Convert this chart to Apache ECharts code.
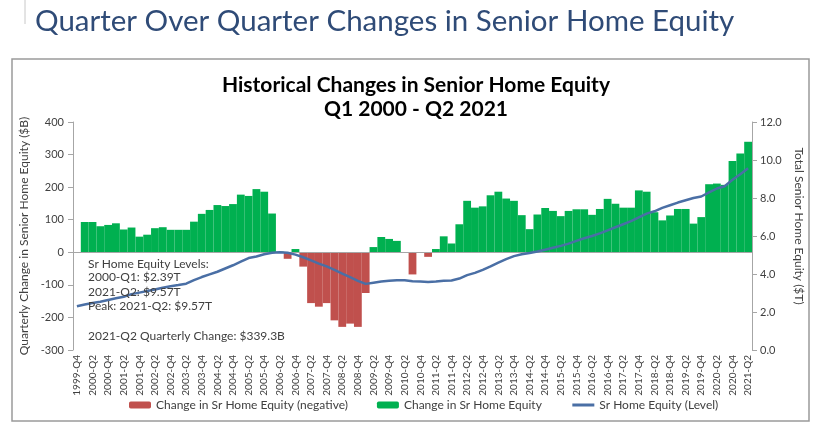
<!DOCTYPE html>
<html><head><meta charset="utf-8">
<script src="https://cdn.jsdelivr.net/npm/echarts@6/dist/echarts.min.js"></script>
<style>html,body{margin:0;padding:0;background:#fff}#c{width:820px;height:430px}</style>
</head><body><div id="c"></div>
<script>
const quarters = [
  "1999-Q4",
  "2000-Q1","2000-Q2","2000-Q3","2000-Q4",
  "2001-Q1","2001-Q2","2001-Q3","2001-Q4",
  "2002-Q1","2002-Q2","2002-Q3","2002-Q4",
  "2003-Q1","2003-Q2","2003-Q3","2003-Q4",
  "2004-Q1","2004-Q2","2004-Q3","2004-Q4",
  "2005-Q1","2005-Q2","2005-Q3","2005-Q4",
  "2006-Q1","2006-Q2","2006-Q3","2006-Q4",
  "2007-Q1","2007-Q2","2007-Q3","2007-Q4",
  "2008-Q1","2008-Q2","2008-Q3","2008-Q4",
  "2009-Q1","2009-Q2","2009-Q3","2009-Q4",
  "2010-Q1","2010-Q2","2010-Q3","2010-Q4",
  "2011-Q1","2011-Q2","2011-Q3","2011-Q4",
  "2012-Q1","2012-Q2","2012-Q3","2012-Q4",
  "2013-Q1","2013-Q2","2013-Q3","2013-Q4",
  "2014-Q1","2014-Q2","2014-Q3","2014-Q4",
  "2015-Q1","2015-Q2","2015-Q3","2015-Q4",
  "2016-Q1","2016-Q2","2016-Q3","2016-Q4",
  "2017-Q1","2017-Q2","2017-Q3","2017-Q4",
  "2018-Q1","2018-Q2","2018-Q3","2018-Q4",
  "2019-Q1","2019-Q2","2019-Q3","2019-Q4",
  "2020-Q1","2020-Q2","2020-Q3","2020-Q4",
  "2021-Q1","2021-Q2"
];
// Quarterly change in senior home equity ($B); first quarter has no change bar
const changeB = [
  null,
  93, 93, 80, 84,
  89, 70, 76, 48,
  54, 74, 77, 69,
  69, 69, 94, 118,
  130, 145, 142, 148,
  177, 173, 194, 186,
  119, 2, -20, 10,
  -44, -156, -167, -156,
  -209, -229, -219, -229,
  -125, 16, 47, 41,
  35, -2, -68, -2,
  -14, 10, 49, 27,
  86, 158, 137, 141,
  175, 186, 165, 158,
  114, 71, 116, 136,
  127, 111, 127, 132,
  132, 115, 133, 164,
  149, 137, 137, 190,
  186, 123, 98, 113,
  133, 133, 88, 108,
  209, 211, 207, 280,
  303, 339.3
];
// Total senior home equity level ($T)
const levelT = [
  2.30,
  2.39, 2.47, 2.54, 2.63,
  2.72, 2.80, 2.94, 3.02,
  3.10, 3.18, 3.28, 3.36,
  3.42, 3.49, 3.68, 3.84,
  3.98, 4.12, 4.29, 4.46,
  4.65, 4.84, 4.92, 5.04,
  5.12, 5.14, 5.12, 5.02,
  4.88, 4.72, 4.55, 4.40,
  4.22, 4.02, 3.84, 3.64,
  3.48, 3.54, 3.60, 3.64,
  3.67, 3.67, 3.62, 3.60,
  3.58, 3.60, 3.64, 3.66,
  3.76, 3.94, 4.06, 4.22,
  4.40, 4.60, 4.78, 4.94,
  5.04, 5.10, 5.18, 5.28,
  5.38, 5.48, 5.60, 5.74,
  5.88, 6.00, 6.14, 6.30,
  6.46, 6.62, 6.78, 6.98,
  7.18, 7.30, 7.48, 7.62,
  7.76, 7.88, 8.00, 8.08,
  8.30, 8.50, 8.62, 8.96,
  9.25, 9.57
];
const seriesNames = ["Change in Sr Home Equity (negative)", "Change in Sr Home Equity", "Sr Home Equity (Level)"];
const pageTitle = "Quarter Over Quarter Changes in Senior Home Equity";
const chartTitle = "Historical Changes in Senior Home Equity\nQ1 2000 - Q2 2021";
const leftAxisName = "Quarterly Change in Senior Home Equity ($B)";
const rightAxisName = "Total Senior Home Equity ($T)";
const noteLines = ["Sr Home Equity Levels:", "2000-Q1: $2.39T", "2021-Q2: $9.57T", "Peak: 2021-Q2: $9.57T", "2021-Q2 Quarterly Change: $339.3B"];

const negData = changeB.map(v => (v !== null && v < 0) ? v : '-');
const posData = changeB.map(v => (v !== null && v >= 0) ? v : '-');

const FONT = 'Lato, "Open Sans", sans-serif';
const TXT = '#404040';
const chart = echarts.init(document.getElementById('c'), null, {renderer: 'canvas'});

const noteTops = [258, 271, 286, 300, 330];
const graphics = [
  {type: 'rect', shape: {x: 12, y: 59, width: 797, height: 362}, style: {fill: 'none', stroke: '#9a9a9a', lineWidth: 1.5}, z: -1, silent: true},
  {type: 'line', shape: {x1: 25, y1: 0, x2: 25, y2: 24}, style: {stroke: '#c8c8c8', lineWidth: 1}, silent: true}
];
noteLines.forEach((t, i) => {
  graphics.push({type: 'text', left: 88, top: noteTops[i], z: 10, silent: true,
    style: {text: t, font: '12px ' + FONT, fill: TXT}});
});

chart.setOption({
  animation: false,
  backgroundColor: '#ffffff',
  textStyle: {fontFamily: FONT},
  title: [
    {text: pageTitle, left: 30, top: 1, textStyle: {fontFamily: FONT, fontSize: 29.5, fontWeight: 'normal', color: '#2f4b77'}},
    {text: chartTitle, left: 411, top: 68, textAlign: 'center',
      textStyle: {fontFamily: FONT, fontSize: 21, fontWeight: 'bold', color: '#000', lineHeight: 24, align: 'center'}}
  ],
  graphic: graphics,
  legend: {
    bottom: 14, left: 124, itemWidth: 22, itemHeight: 7, itemGap: 29,
    data: [
      {name: seriesNames[0]},
      {name: seriesNames[1]},
      {name: seriesNames[2], itemStyle: {opacity: 0}, lineStyle: {width: 3}}
    ],
    textStyle: {fontFamily: FONT, fontSize: 12, color: TXT}
  },
  grid: {left: 73, right: 68, top: 122, bottom: 80, containLabel: false},
  xAxis: {
    type: 'category', data: quarters, boundaryGap: true,
    axisLine: {show: false, onZero: false}, axisTick: {show: false},
    axisLabel: {interval: 1, rotate: 90, fontSize: 10, color: TXT, fontFamily: FONT, margin: 5}
  },
  yAxis: [
    {type: 'value', min: -300, max: 400, interval: 100, position: 'left',
      name: leftAxisName, nameLocation: 'middle', nameGap: 43,
      nameTextStyle: {fontFamily: FONT, fontSize: 12, color: TXT},
      axisLine: {show: true, lineStyle: {color: '#a6a6a6'}},
      axisTick: {show: true, length: 5, lineStyle: {color: '#a6a6a6'}},
      axisLabel: {fontSize: 11, color: TXT, fontFamily: FONT, margin: 9},
      splitLine: {show: false}},
    {type: 'value', min: 0, max: 12, interval: 2, position: 'right',
      name: rightAxisName, nameLocation: 'middle', nameGap: 40, nameRotate: -90,
      nameTextStyle: {fontFamily: FONT, fontSize: 12, color: TXT, padding: [0, 20, 0, 0]},
      axisLine: {show: true, lineStyle: {color: '#a6a6a6'}},
      axisTick: {show: true, length: 5, lineStyle: {color: '#a6a6a6'}},
      axisLabel: {fontSize: 11, color: TXT, fontFamily: FONT, margin: 8, formatter: v => v.toFixed(1)},
      splitLine: {show: false}}
  ],
  series: [
    {name: seriesNames[0], type: 'bar', data: negData, stack: 'chg', barWidth: '100%',
      itemStyle: {color: '#c0504d'}},
    {name: seriesNames[1], type: 'bar', data: posData, stack: 'chg', barWidth: '100%',
      itemStyle: {color: '#00b050'},
      markLine: {silent: true, symbol: 'none', label: {show: false},
        lineStyle: {color: '#a6a6a6', type: 'solid', width: 1},
        data: [{yAxis: 0}]}},
    {name: seriesNames[2], type: 'line', yAxisIndex: 1, data: levelT, symbol: 'none',
      lineStyle: {color: '#4a6fa5', width: 2.5}, itemStyle: {color: '#4a6fa5'}, z: 5}
  ]
});
</script>
</body></html>
